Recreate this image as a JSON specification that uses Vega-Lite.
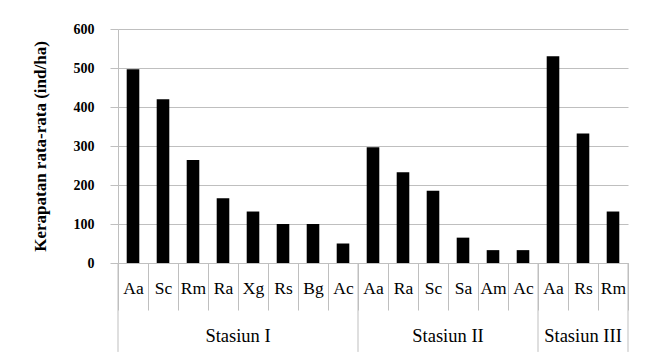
{
  "$schema": "https://vega.github.io/schema/vega-lite/v6.json",
  "width": 510,
  "height": 234,
  "autosize": {"type": "none"},
  "padding": {"left": 118, "top": 29, "right": 19, "bottom": 95},
  "background": "white",
  "config": {
    "view": {"stroke": null},
    "font": "Liberation Serif, Times New Roman, serif",
    "axisX": {
      "title": null,
      "labelAngle": 0,
      "labelFont": "Liberation Serif, Times New Roman, serif",
      "labelFontSize": 17.5,
      "labelColor": "black",
      "labelPadding": -31,
      "tickBand": "extent",
      "tickSize": 47,
      "tickColor": "#bfbfbf",
      "domainColor": "#bfbfbf",
      "grid": false
    },
    "axisY": {
      "titleFont": "Liberation Serif, Times New Roman, serif",
      "titleFontSize": 17,
      "titleFontWeight": "bold",
      "titleColor": "black",
      "titlePadding": 24,
      "labelOverlap": false,
      "labelFont": "Liberation Serif, Times New Roman, serif",
      "labelFontSize": 14,
      "labelFontWeight": "bold",
      "labelColor": "black",
      "labelPadding": 16,
      "tickSize": 8,
      "tickColor": "#bfbfbf",
      "domainColor": "#bfbfbf",
      "gridColor": "#bfbfbf"
    }
  },
  "data": {
    "values": [
      {"station": "Stasiun I", "species": "Aa", "id": "I-Aa", "value": 497},
      {"station": "Stasiun I", "species": "Sc", "id": "I-Sc", "value": 420},
      {"station": "Stasiun I", "species": "Rm", "id": "I-Rm", "value": 264},
      {"station": "Stasiun I", "species": "Ra", "id": "I-Ra", "value": 166},
      {"station": "Stasiun I", "species": "Xg", "id": "I-Xg", "value": 132},
      {"station": "Stasiun I", "species": "Rs", "id": "I-Rs", "value": 100},
      {"station": "Stasiun I", "species": "Bg", "id": "I-Bg", "value": 100},
      {"station": "Stasiun I", "species": "Ac", "id": "I-Ac", "value": 50},
      {"station": "Stasiun II", "species": "Aa", "id": "II-Aa", "value": 297},
      {"station": "Stasiun II", "species": "Ra", "id": "II-Ra", "value": 233},
      {"station": "Stasiun II", "species": "Sc", "id": "II-Sc", "value": 185},
      {"station": "Stasiun II", "species": "Sa", "id": "II-Sa", "value": 65},
      {"station": "Stasiun II", "species": "Am", "id": "II-Am", "value": 33},
      {"station": "Stasiun II", "species": "Ac", "id": "II-Ac", "value": 33},
      {"station": "Stasiun III", "species": "Aa", "id": "III-Aa", "value": 530},
      {"station": "Stasiun III", "species": "Rs", "id": "III-Rs", "value": 332},
      {"station": "Stasiun III", "species": "Rm", "id": "III-Rm", "value": 132}
    ]
  },
  "layer": [
    {
      "mark": {"type": "bar", "color": "black", "width": {"band": 0.42}},
      "encoding": {
        "x": {
          "field": "id",
          "type": "nominal",
          "scale": {
            "domain": ["I-Aa","I-Sc","I-Rm","I-Ra","I-Xg","I-Rs","I-Bg","I-Ac","II-Aa","II-Ra","II-Sc","II-Sa","II-Am","II-Ac","III-Aa","III-Rs","III-Rm"],
            "paddingInner": 0,
            "paddingOuter": 0
          },
          "axis": {"title": null, "labelExpr": "split(datum.label, '-')[1]"}
        },
        "y": {
          "field": "value",
          "type": "quantitative",
          "scale": {"domain": [0, 600], "nice": false},
          "axis": {"title": "Kerapatan rata-rata (ind/ha)", "values": [0, 100, 200, 300, 400, 500, 600]}
        }
      }
    },
    {
      "transform": [{"filter": "datum.species == 'Aa'"}],
      "mark": {"type": "rule", "color": "#bfbfbf"},
      "encoding": {
        "x": {"field": "id", "type": "nominal", "bandPosition": 0, "axis": {"title": null, "labelExpr": "split(datum.label, '-')[1]"}},
        "y": {"datum": 0, "axis": {"title": "Kerapatan rata-rata (ind/ha)", "values": [0, 100, 200, 300, 400, 500, 600]}},
        "y2": {"datum": -228}
      }
    },
    {
      "transform": [{"filter": "datum.id == 'III-Rm'"}],
      "mark": {"type": "rule", "color": "#bfbfbf"},
      "encoding": {
        "x": {"field": "id", "type": "nominal", "bandPosition": 1, "axis": {"title": null, "labelExpr": "split(datum.label, '-')[1]"}},
        "y": {"datum": 0, "axis": {"title": "Kerapatan rata-rata (ind/ha)", "values": [0, 100, 200, 300, 400, 500, 600]}},
        "y2": {"datum": -228}
      }
    },
    {
      "transform": [{"filter": "datum.id == 'I-Xg' || datum.id == 'II-Sa'"}],
      "mark": {"type": "text", "fontSize": 18.5, "font": "Liberation Serif, Times New Roman, serif", "color": "black", "dy": 73, "baseline": "middle"},
      "encoding": {
        "x": {"field": "id", "type": "nominal", "bandPosition": 0, "axis": {"title": null, "labelExpr": "split(datum.label, '-')[1]"}},
        "y": {"datum": 0, "axis": {"title": "Kerapatan rata-rata (ind/ha)", "values": [0, 100, 200, 300, 400, 500, 600]}},
        "text": {"field": "station"}
      }
    },
    {
      "transform": [{"filter": "datum.id == 'III-Rs'"}],
      "mark": {"type": "text", "fontSize": 18.5, "font": "Liberation Serif, Times New Roman, serif", "color": "black", "dy": 73, "baseline": "middle"},
      "encoding": {
        "x": {"field": "id", "type": "nominal", "bandPosition": 0.5, "axis": {"title": null, "labelExpr": "split(datum.label, '-')[1]"}},
        "y": {"datum": 0, "axis": {"title": "Kerapatan rata-rata (ind/ha)", "values": [0, 100, 200, 300, 400, 500, 600]}},
        "text": {"field": "station"}
      }
    }
  ]
}
